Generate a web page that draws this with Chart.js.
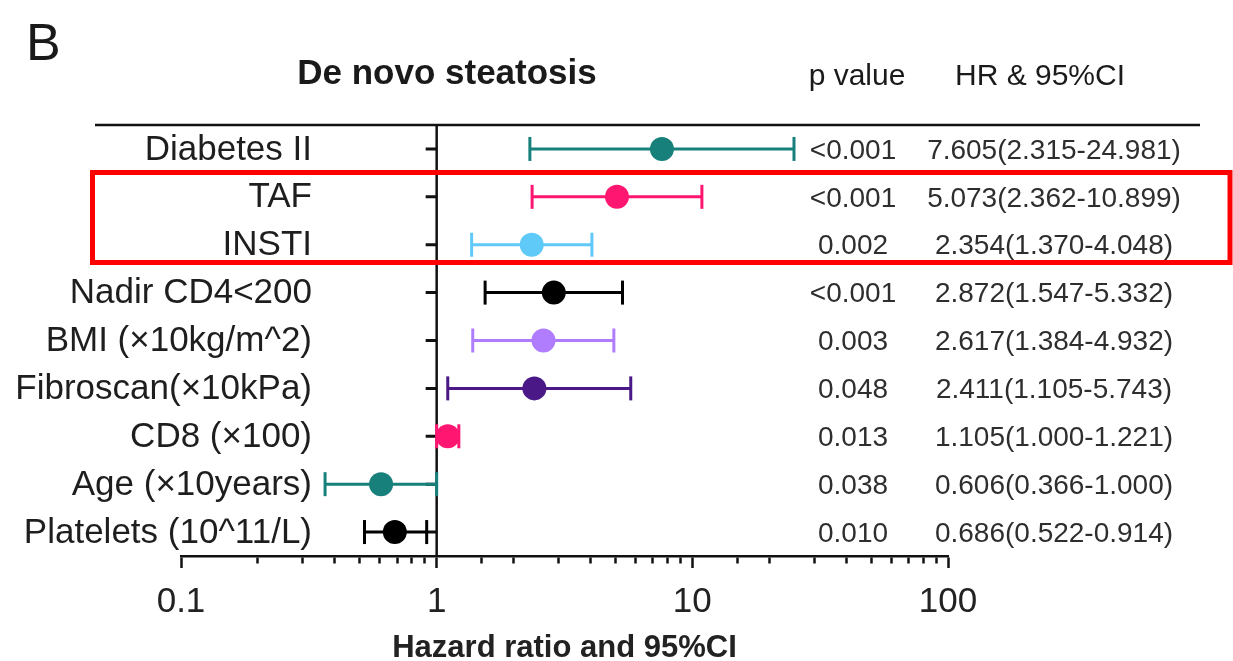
<!DOCTYPE html>
<html>
<head>
<meta charset="utf-8">
<title>De novo steatosis</title>
<script src="https://cdn.jsdelivr.net/npm/chart.js@4.4.1/dist/chart.umd.min.js"></script>
<style>
  html, body { margin: 0; padding: 0; background: #fff; }
  #wrap { width: 1233px; height: 661px; }
</style>
</head>
<body>
<div id="wrap"><canvas id="forest" width="1233" height="661"></canvas></div>
<script>
// Cox model results, one entry per row (top to bottom)
const rows = ['Diabetes II', 'TAF', 'INSTI', 'Nadir CD4<200', 'BMI (×10kg/m^2)',
  'Fibroscan(×10kPa)', 'CD8 (×100)', 'Age (×10years)', 'Platelets (10^11/L)'];
const hr = [7.605, 5.073, 2.354, 2.872, 2.617, 2.411, 1.105, 0.606, 0.686];
const ciLow = [2.315, 2.362, 1.370, 1.547, 1.384, 1.105, 1.000, 0.366, 0.522];
const ciHigh = [24.981, 10.899, 4.048, 5.332, 4.932, 5.743, 1.221, 1.000, 0.914];
const pValues = ['<0.001', '<0.001', '0.002', '<0.001', '0.003', '0.048', '0.013', '0.038', '0.010'];
const xTickLabels = [0.1, 1, 10, 100];

const rowColors = ['#17807b', '#ff1670', '#5fc9f8', '#000000', '#b07dff',
  '#4b1888', '#ff1670', '#17807b', '#000000'];

const FONT = '"Liberation Sans", Arial, sans-serif';
const isMajor = v => Math.abs(Math.log10(v) - Math.round(Math.log10(v))) < 1e-6;

// whiskers: one two-point line per row, caps drawn as rotated 'line' points
const whiskers = rows.map((r, i) => ({
  type: 'line',
  data: [{x: ciLow[i], y: r}, {x: ciHigh[i], y: r}],
  showLine: true,
  borderColor: rowColors[i],
  borderWidth: 3,
  pointStyle: 'line',
  rotation: 90,
  pointRadius: 12,
  pointBorderWidth: 3,
  pointBorderColor: rowColors[i],
  fill: false
}));

const points = {
  type: 'scatter',
  data: rows.map((r, i) => ({x: hr[i], y: r})),
  pointRadius: 12,
  pointBorderWidth: 0,
  pointBackgroundColor: rowColors
};

const forestDecor = {
  id: 'forestDecor',
  beforeDatasetsDraw(chart) {
    const {ctx, chartArea, scales: {x, y}} = chart;
    const x1 = x.getPixelForValue(1);
    ctx.save();
    ctx.strokeStyle = '#111';
    ctx.lineWidth = 2.5;
    ctx.beginPath();
    ctx.moveTo(95, chartArea.top);
    ctx.lineTo(1200, chartArea.top);
    ctx.moveTo(x1, chartArea.top);
    ctx.lineTo(x1, chartArea.bottom);
    ctx.stroke();
    // row ticks on the no-effect line
    ctx.lineWidth = 3;
    ctx.beginPath();
    rows.forEach((r, i) => {
      const py = y.getPixelForValue(i);
      ctx.moveTo(x1 - 11, py);
      ctx.lineTo(x1, py);
    });
    ctx.stroke();

    // row names, right-aligned a little left of the no-effect line
    ctx.fillStyle = '#1e1e1e';
    ctx.font = '35px ' + FONT;
    ctx.textAlign = 'right';
    ctx.textBaseline = 'middle';
    rows.forEach((r, i) => {
      ctx.fillText(r, 312, y.getPixelForValue(i) + 1);
    });
    ctx.restore();
  },
  afterDraw(chart) {
    const {ctx, scales: {y}} = chart;
    ctx.save();
    ctx.fillStyle = '#1a1a1a';
    ctx.textBaseline = 'alphabetic';
    ctx.textAlign = 'left';
    ctx.font = '52px ' + FONT;
    ctx.fillText('B', 26, 60);
    ctx.textAlign = 'center';
    ctx.font = 'bold 35px ' + FONT;
    ctx.fillText('De novo steatosis', 447, 84);
    ctx.font = '30px ' + FONT;
    ctx.fillText('p value', 857, 85);
    ctx.fillText('HR & 95%CI', 1040, 85);

    ctx.fillStyle = '#2e2e2e';
    ctx.font = '28px ' + FONT;
    ctx.textBaseline = 'middle';
    rows.forEach((r, i) => {
      const py = y.getPixelForValue(i) + 2;
      ctx.fillText(pValues[i], 853, py);
      const txt = hr[i].toFixed(3) + '(' + ciLow[i].toFixed(3) + '-' + ciHigh[i].toFixed(3) + ')';
      ctx.fillText(txt, 1054, py);
    });

    // highlight box around the antiretroviral rows
    ctx.strokeStyle = '#ff0000';
    ctx.lineWidth = 5;
    ctx.strokeRect(92.5, 172.5, 1137.5, 90);
    ctx.restore();
  }
};

new Chart(document.getElementById('forest'), {
  type: 'scatter',
  data: {datasets: [points, ...whiskers]},
  options: {
    responsive: false,
    animation: false,
    layout: {padding: {top: 125, right: 285, left: 0, bottom: 0}},
    plugins: {legend: {display: false}, tooltip: {enabled: false}},
    scales: {
      x: {
        type: 'logarithmic',
        min: 0.1,
        max: 100,
        afterFit: s => { s.height = 105; },
        border: {display: true, color: '#111', width: 2.5},
        grid: {
          display: true,
          drawOnChartArea: false,
          drawTicks: true,
          tickLength: 12,
          tickWidth: 2.5,
          tickColor: '#111',
          tickBorderDash: ctx => (ctx.tick && isMajor(ctx.tick.value)) ? [] : [6, 100]
        },
        ticks: {
          autoSkip: false,
          maxRotation: 0,
          padding: 13,
          color: '#222',
          font: {family: FONT, size: 35},
          callback: v => xTickLabels.some(t => Math.abs(t - v) < 1e-9) ? String(v) : ''
        },
        title: {
          display: true,
          text: 'Hazard ratio and 95%CI',
          color: '#222',
          font: {family: FONT, size: 31, weight: 'bold', lineHeight: 1},
          padding: {top: 0, bottom: -3}
        }
      },
      y: {
        type: 'category',
        labels: rows,
        offset: true,
        position: 'left',
        afterFit: s => { s.width = 181; },
        border: {display: false},
        grid: {display: false},
        ticks: {display: false}
      }
    }
  },
  plugins: [forestDecor]
});
</script>
</body>
</html>
